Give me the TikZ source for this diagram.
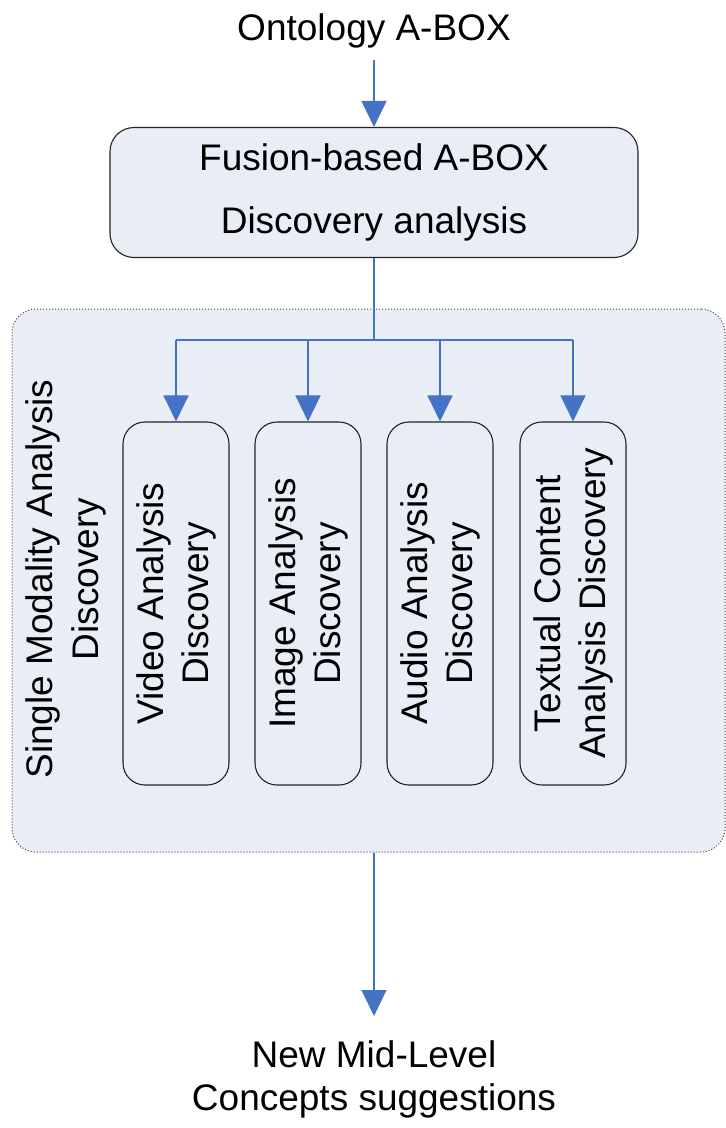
\documentclass[tikz,border=0pt]{standalone}
\usepackage{fontspec}
\setmainfont{Liberation Sans}
\usetikzlibrary{arrows.meta}
\definecolor{panelfill}{RGB}{233,237,246}
\definecolor{linkblue}{RGB}{68,114,196}
\definecolor{edgegray}{RGB}{35,35,35}

\begin{document}
\begin{tikzpicture}[x=1pt,y=-1pt,
  plain text/.style={inner sep=0pt, align=center, font=\fontsize{37}{44}\selectfont},
  fusionbox/.style={draw=edgegray, line width=1.1pt, fill=panelfill, rounded corners=24pt,
    minimum width=528pt, minimum height=130pt, inner sep=0pt, align=center,
    font=\fontsize{37}{63}\selectfont},
  modality/.style={draw=edgegray, line width=1.1pt, fill=panelfill, rounded corners=22pt,
    rotate=90, minimum width=363pt, minimum height=106pt, inner sep=0pt, align=center,
    font=\fontsize{37}{45}\selectfont},
  groupbox/.style={draw=edgegray!85, line width=1pt, dash pattern=on 1pt off 2pt,
    fill=panelfill, rounded corners=24pt, inner sep=0pt},
  link/.style={draw=linkblue, line width=1.2pt},
  arr/.style={link, -{Triangle[width=25pt,length=26pt]}, fill=linkblue}
]
\useasboundingbox (0,0) rectangle (726,1128);

% dotted panel holding the single-modality branches
\node[groupbox, minimum width=713pt, minimum height=543pt] (group) at (368.5,580.5) {};
\node[plain text, rotate=90, font=\fontsize{37}{46}\selectfont] (single) at (66,579)
  {Single Modality Analysis\\Discovery};

% top input and fusion step
\node[plain text, anchor=base] (onto) at (374,40) {Ontology A-BOX};
\node[fusionbox] (fusion) at (374,192.5) {Fusion-based A-BOX\\Discovery analysis};

% the four modality boxes (rotated: .east is the top edge)
\node[modality] (video)   at (176,603.5) {Video Analysis\\Discovery};
\node[modality] (image)   at (308,603.5) {Image Analysis\\Discovery};
\node[modality] (audio)   at (440,603.5) {Audio Analysis\\Discovery};
\node[modality] (textual) at (573,603.5) {Textual Content\\Analysis Discovery};

% output
\node[plain text, anchor=north, font=\fontsize{37}{43}\selectfont] (result) at (374,1040)
  {New Mid-Level\\Concepts suggestions};

% connectors
\coordinate (bus) at (374,340);
\draw[arr] ([yshift=-12pt]onto.south) -- (fusion.north);
\draw[link] (fusion.south) -- (fusion.south |- bus);
\draw[link] (bus -| video.east) -- (bus -| textual.east);
\foreach \m in {video,image,audio,textual}
  \draw[arr] (bus -| \m.east) -- (\m.east);
\draw[arr] (fusion.south |- group.south) -- ([yshift=24pt]result.north);
\end{tikzpicture}
\end{document}
